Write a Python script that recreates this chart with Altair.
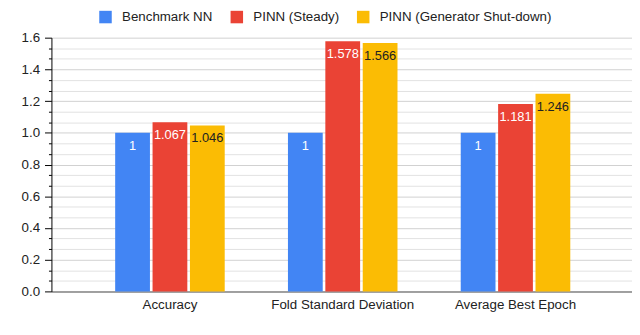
import altair as alt
import pandas as pd

categories = ["Accuracy", "Fold Standard Deviation", "Average Best Epoch"]
series = ["Benchmark NN", "PINN (Steady)", "PINN (Generator Shut-down)"]
benchmark_nn = [1, 1, 1]
pinn_steady = [1.067, 1.578, 1.181]
pinn_shutdown = [1.046, 1.566, 1.246]
colors = ["#4285F4", "#EA4335", "#FBBC04"]
text_colors = ["#ffffff", "#ffffff", "#222222"]

rows = []
for s_i, (name, vals) in enumerate(zip(series, [benchmark_nn, pinn_steady, pinn_shutdown])):
    for c, v in zip(categories, vals):
        rows.append({"category": c, "series": name, "value": v,
                     "label": f"{v:g}", "tcolor": text_colors[s_i]})
df = pd.DataFrame(rows)

yticks = [round(i * 0.2 / 3, 6) for i in range(25)]
major = "abs(datum.value*5 - round(datum.value*5)) < 0.001"
FONT = "Liberation Sans"

x_enc = alt.X("category:N", sort=categories, title=None,
              scale=alt.Scale(paddingInner=0.366, paddingOuter=0.363, align=0.508),
              axis=alt.Axis(labelAngle=0, labelFontSize=13.5, labelColor="#222222",
                            labelFont=FONT, labelPadding=6, ticks=False,
                            domainColor="#888888", domainWidth=1.5))
xoff = alt.XOffset("series:N", sort=series,
                   scale=alt.Scale(paddingInner=0.07, paddingOuter=0))
y_enc = alt.Y("value:Q", title=None,
              scale=alt.Scale(domain=[0, 1.6], nice=False, zero=True),
              axis=alt.Axis(values=yticks, tickCount=25, labelOverlap=False,
                            labelExpr=f"{major} ? format(datum.value, '.1f') : ''",
                            labelFontSize=13.5, labelColor="#222222", labelFont=FONT,
                            domainColor="#000000", tickColor="#000000",
                            tickSize={"condition": {"test": major, "value": 7}, "value": 3},
                            gridColor={"condition": {"test": major, "value": "#d0d0d0"}, "value": "#e2e2e2"},
                            labelPadding=5))

bars = alt.Chart(df).mark_bar().encode(
    x=x_enc, xOffset=xoff, y=y_enc,
    color=alt.Color("series:N", sort=series,
                    scale=alt.Scale(domain=series, range=colors),
                    legend=alt.Legend(title=None, orient="none", direction="horizontal",
                                      legendX=48, legendY=-28, symbolType="square",
                                      symbolSize=160, symbolStrokeWidth=0,
                                      labelFontSize=13.5, labelFont=FONT,
                                      labelColor="#222222", labelOffset=10,
                                      labelLimit=400,
                                      columnPadding=17, padding=0)),
)

texts = alt.Chart(df).mark_text(baseline="middle", dy=13, fontSize=13, font=FONT).encode(
    x=alt.X("category:N", sort=categories), xOffset=xoff,
    y=alt.Y("value:Q"),
    text="label:N",
    color=alt.Color("tcolor:N", scale=None),
)

chart = alt.layer(bars, texts).properties(
    width=588, height=257,
    autosize=alt.AutoSizeParams(type="none"),
    padding={"left": 44, "top": 28, "right": 0, "bottom": 34},
).configure_view(stroke=None)

chart.save("out.html", embed_options={"renderer": "svg", "actions": False})
